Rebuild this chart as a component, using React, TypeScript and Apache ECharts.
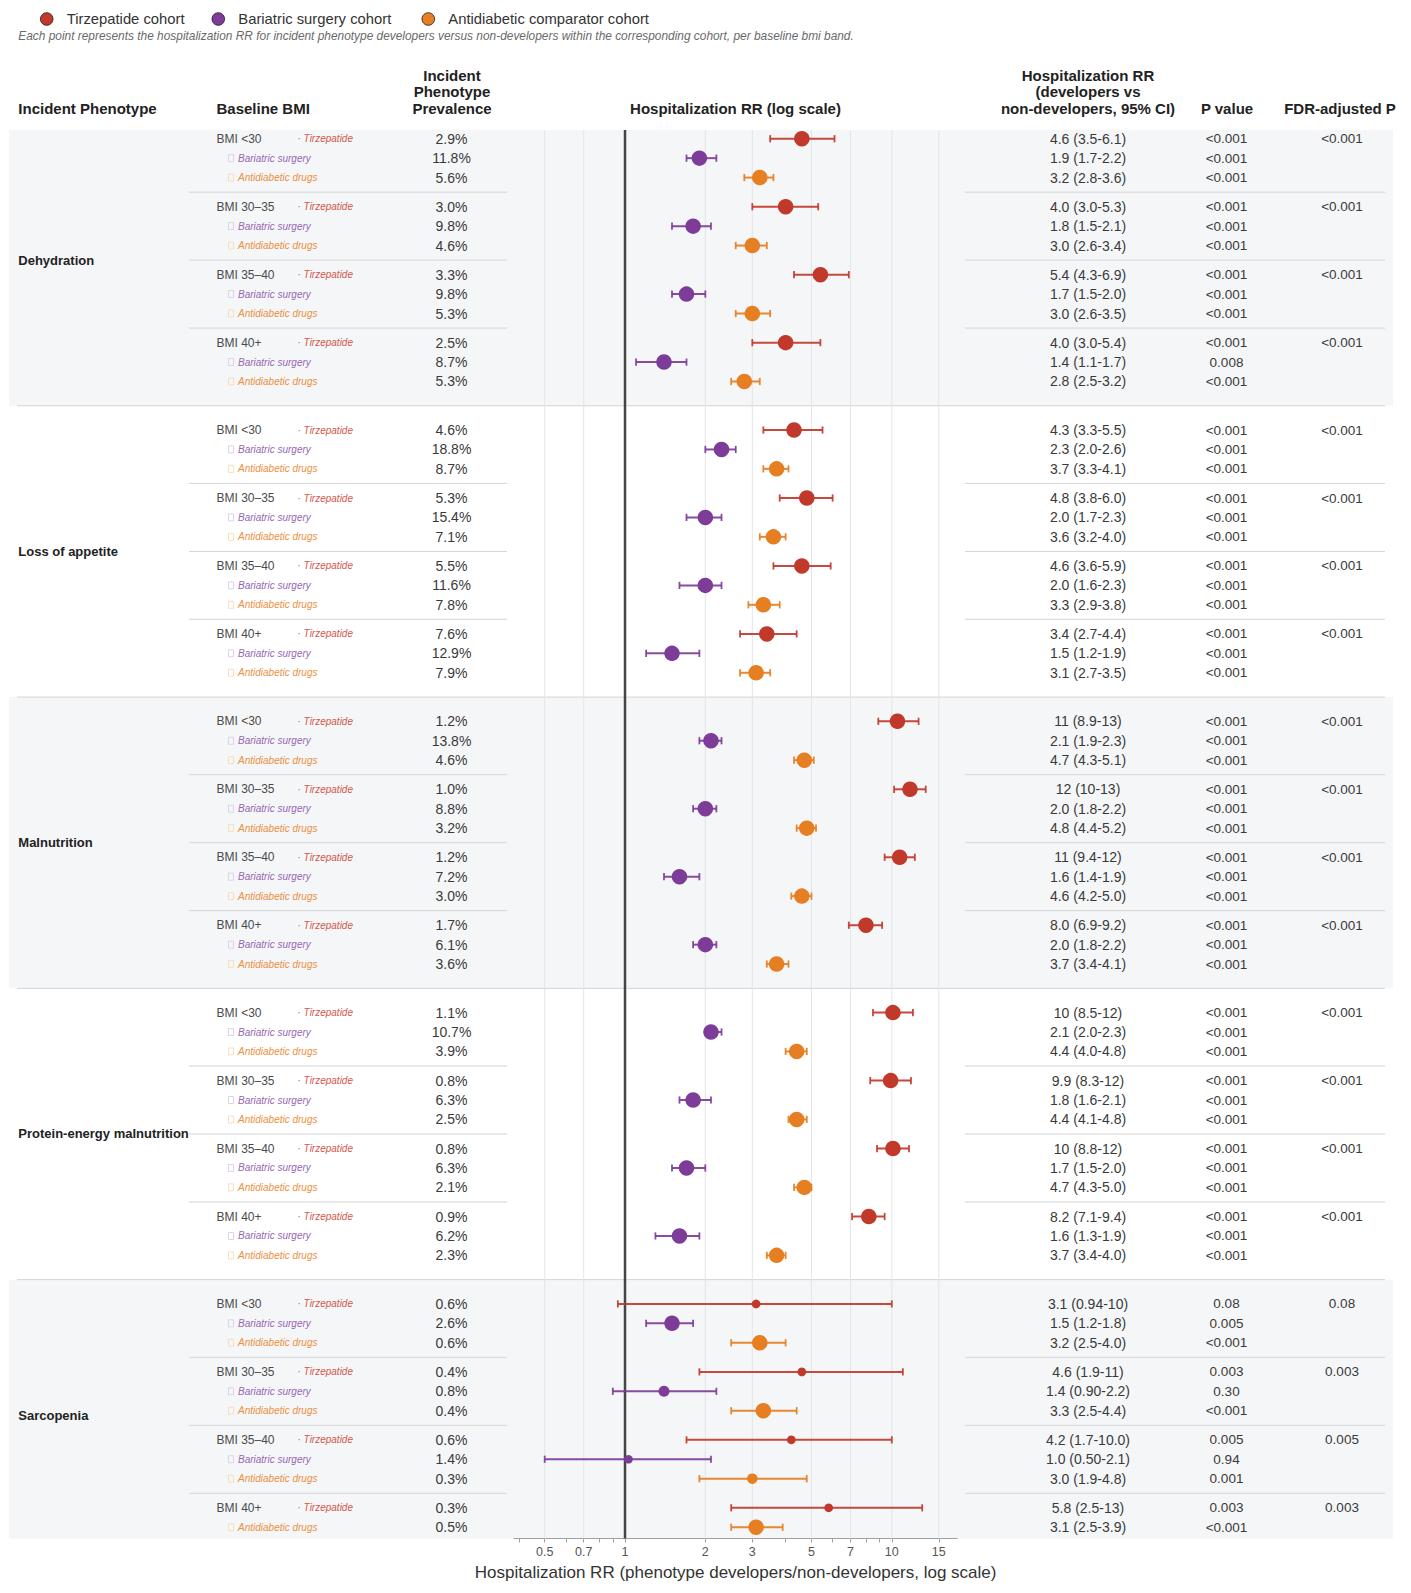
import React, { useEffect, useRef } from "react";
import * as echarts from "echarts";

const FONT = '"Liberation Sans", Arial, Helvetica, sans-serif';

// ---------- categories ----------
const phenotypes = ["Dehydration", "Loss of appetite", "Malnutrition", "Protein-energy malnutrition", "Sarcopenia"];
const bmiBands = ["BMI <30", "BMI 30–35", "BMI 35–40", "BMI 40+"];
const cohortNames = ["Tirzepatide", "Bariatric surgery", "Antidiabetic drugs"];
const cohortLegend = ["Tirzepatide cohort", "Bariatric surgery cohort", "Antidiabetic comparator cohort"];
// [phenotype, band, cohort] combinations that have no estimate
const missingRows = [[4, 3, 1]];

// ---------- values (row order: phenotype → BMI band → Tirzepatide, Bariatric, Antidiabetic) ----------
const prevalence = [
  2.9, 11.8, 5.6, 3.0, 9.8, 4.6, 3.3, 9.8, 5.3, 2.5, 8.7, 5.3,
  4.6, 18.8, 8.7, 5.3, 15.4, 7.1, 5.5, 11.6, 7.8, 7.6, 12.9, 7.9,
  1.2, 13.8, 4.6, 1.0, 8.8, 3.2, 1.2, 7.2, 3.0, 1.7, 6.1, 3.6,
  1.1, 10.7, 3.9, 0.8, 6.3, 2.5, 0.8, 6.3, 2.1, 0.9, 6.2, 2.3,
  0.6, 2.6, 0.6, 0.4, 0.8, 0.4, 0.6, 1.4, 0.3, 0.3, 0.5,
];
const rr = [
  4.6, 1.9, 3.2, 4.0, 1.8, 3.0, 5.4, 1.7, 3.0, 4.0, 1.4, 2.8,
  4.3, 2.3, 3.7, 4.8, 2.0, 3.6, 4.6, 2.0, 3.3, 3.4, 1.5, 3.1,
  10.5, 2.1, 4.7, 11.7, 2.0, 4.8, 10.7, 1.6, 4.6, 8.0, 2.0, 3.7,
  10.1, 2.1, 4.4, 9.9, 1.8, 4.4, 10.1, 1.7, 4.7, 8.2, 1.6, 3.7,
  3.1, 1.5, 3.2, 4.6, 1.4, 3.3, 4.2, 1.03, 3.0, 5.8, 3.1,
];
const ciLow = [
  3.5, 1.7, 2.8, 3.0, 1.5, 2.6, 4.3, 1.5, 2.6, 3.0, 1.1, 2.5,
  3.3, 2.0, 3.3, 3.8, 1.7, 3.2, 3.6, 1.6, 2.9, 2.7, 1.2, 2.7,
  8.9, 1.9, 4.3, 10.2, 1.8, 4.4, 9.4, 1.4, 4.2, 6.9, 1.8, 3.4,
  8.5, 2.0, 4.0, 8.3, 1.6, 4.1, 8.8, 1.5, 4.3, 7.1, 1.3, 3.4,
  0.94, 1.2, 2.5, 1.9, 0.9, 2.5, 1.7, 0.5, 1.9, 2.5, 2.5,
];
const ciHigh = [
  6.1, 2.2, 3.6, 5.3, 2.1, 3.4, 6.9, 2.0, 3.5, 5.4, 1.7, 3.2,
  5.5, 2.6, 4.1, 6.0, 2.3, 4.0, 5.9, 2.3, 3.8, 4.4, 1.9, 3.5,
  12.6, 2.3, 5.1, 13.4, 2.2, 5.2, 12.2, 1.9, 5.0, 9.2, 2.2, 4.1,
  12.0, 2.3, 4.8, 11.8, 2.1, 4.8, 11.6, 2.0, 5.0, 9.4, 1.9, 4.0,
  10.0, 1.8, 4.0, 11.0, 2.2, 4.4, 10.0, 2.1, 4.8, 13.0, 3.9,
];
const rrText = [
  "4.6 (3.5-6.1)", "1.9 (1.7-2.2)", "3.2 (2.8-3.6)", "4.0 (3.0-5.3)", "1.8 (1.5-2.1)", "3.0 (2.6-3.4)",
  "5.4 (4.3-6.9)", "1.7 (1.5-2.0)", "3.0 (2.6-3.5)", "4.0 (3.0-5.4)", "1.4 (1.1-1.7)", "2.8 (2.5-3.2)",
  "4.3 (3.3-5.5)", "2.3 (2.0-2.6)", "3.7 (3.3-4.1)", "4.8 (3.8-6.0)", "2.0 (1.7-2.3)", "3.6 (3.2-4.0)",
  "4.6 (3.6-5.9)", "2.0 (1.6-2.3)", "3.3 (2.9-3.8)", "3.4 (2.7-4.4)", "1.5 (1.2-1.9)", "3.1 (2.7-3.5)",
  "11 (8.9-13)", "2.1 (1.9-2.3)", "4.7 (4.3-5.1)", "12 (10-13)", "2.0 (1.8-2.2)", "4.8 (4.4-5.2)",
  "11 (9.4-12)", "1.6 (1.4-1.9)", "4.6 (4.2-5.0)", "8.0 (6.9-9.2)", "2.0 (1.8-2.2)", "3.7 (3.4-4.1)",
  "10 (8.5-12)", "2.1 (2.0-2.3)", "4.4 (4.0-4.8)", "9.9 (8.3-12)", "1.8 (1.6-2.1)", "4.4 (4.1-4.8)",
  "10 (8.8-12)", "1.7 (1.5-2.0)", "4.7 (4.3-5.0)", "8.2 (7.1-9.4)", "1.6 (1.3-1.9)", "3.7 (3.4-4.0)",
  "3.1 (0.94-10)", "1.5 (1.2-1.8)", "3.2 (2.5-4.0)", "4.6 (1.9-11)", "1.4 (0.90-2.2)", "3.3 (2.5-4.4)",
  "4.2 (1.7-10.0)", "1.0 (0.50-2.1)", "3.0 (1.9-4.8)", "5.8 (2.5-13)", "3.1 (2.5-3.9)",
];
const pText = [
  "<0.001", "<0.001", "<0.001", "<0.001", "<0.001", "<0.001", "<0.001", "<0.001", "<0.001", "<0.001", "0.008", "<0.001",
  "<0.001", "<0.001", "<0.001", "<0.001", "<0.001", "<0.001", "<0.001", "<0.001", "<0.001", "<0.001", "<0.001", "<0.001",
  "<0.001", "<0.001", "<0.001", "<0.001", "<0.001", "<0.001", "<0.001", "<0.001", "<0.001", "<0.001", "<0.001", "<0.001",
  "<0.001", "<0.001", "<0.001", "<0.001", "<0.001", "<0.001", "<0.001", "<0.001", "<0.001", "<0.001", "<0.001", "<0.001",
  "0.08", "0.005", "<0.001", "0.003", "0.30", "<0.001", "0.005", "0.94", "0.001", "0.003", "<0.001",
];
// one FDR-adjusted P per phenotype × BMI band
const fdrText = [
  "<0.001", "<0.001", "<0.001", "<0.001",
  "<0.001", "<0.001", "<0.001", "<0.001",
  "<0.001", "<0.001", "<0.001", "<0.001",
  "<0.001", "<0.001", "<0.001", "<0.001",
  "0.08", "0.003", "0.005", "0.003",
];

// ---------- axis ----------
const xTickValues = [0.4, 0.5, 0.6, 0.7, 0.8, 0.9, 1, 2, 3, 4, 5, 6, 7, 8, 9, 10, 15];
const xLabelValues = [0.5, 0.7, 1, 2, 3, 5, 7, 10, 15];
const xGridValues = [0.5, 0.7, 1, 2, 3, 5, 7, 10, 15];
const X_MIN = 0.3836;
const X_MAX = 17.6;

// ---------- style / layout ----------
const colors = ["#c0392b", "#7d3c98", "#e67e22"];
const labelColors = ["#d4574d", "#9766b3", "#ec8f40"];
const boxColors = ["", "#ddd2ea", "#f8dcc4"];
const BAND_STEP = 3.5;
const PHENO_STEP = 15;
const Y_MIN = -0.45;
const Y_MAX = 72.08;
const BAND_FILL = "#f5f6f8";
const SEP = "#d4d4d4";

type Row = { i: number; p: number; b: number; c: number; k: number; y: number };
const rows: Row[] = [];
{
  let i = 0;
  phenotypes.forEach((_, p) =>
    bmiBands.forEach((__, b) => {
      let k = 0;
      cohortNames.forEach((___, c) => {
        if (missingRows.some((m) => m[0] === p && m[1] === b && m[2] === c)) return;
        rows.push({ i, p, b, c, k, y: p * PHENO_STEP + b * BAND_STEP + k });
        i++;
        k++;
      });
    })
  );
}

const phenoFirst = (p: number) => Math.min(...rows.filter((r) => r.p === p).map((r) => r.y));
const phenoLast = (p: number) => Math.max(...rows.filter((r) => r.p === p).map((r) => r.y));
const bandTop = (p: number) => (p === 0 ? Y_MIN : (phenoLast(p - 1) + phenoFirst(p)) / 2);
const bandBottom = (p: number) => (p === phenotypes.length - 1 ? Y_MAX : (phenoLast(p) + phenoFirst(p + 1)) / 2);

const markerSize = (lo: number, hi: number) => {
  const w = Math.log(hi / lo);
  return Math.max(8.7, Math.min(15.5, 9.8 / w));
};

const txt = (text: string, x: number, y: number, o: any = {}) => ({
  type: "text",
  x,
  y,
  style: {
    text,
    fill: o.fill || "#333",
    fontSize: o.fontSize || 14,
    fontFamily: FONT,
    fontStyle: o.fontStyle || "normal",
    fontWeight: o.fontWeight || "normal",
    align: o.align || "left",
    verticalAlign: "middle",
  },
});

export default function App() {
  const ref = useRef<HTMLDivElement>(null);

  useEffect(() => {
    if (!ref.current) return;
    const chart = echarts.init(ref.current, undefined, { renderer: "svg" });

    const bandSeries = {
      type: "custom",
      z: 0,
      silent: true,
      clip: false,
      data: phenotypes.map((_, p) => [1, phenoFirst(p)]),
      renderItem: (params: any, api: any) => {
        const p = params.dataIndex;
        const yTop = api.coord([1, bandTop(p)])[1];
        const yBot = api.coord([1, bandBottom(p)])[1];
        const children: any[] = [];
        if (p % 2 === 0)
          children.push({ type: "rect", shape: { x: 9, y: yTop, width: 1384, height: yBot - yTop }, style: { fill: BAND_FILL } });
        if (p > 0)
          children.push({ type: "line", shape: { x1: 17, y1: yTop, x2: 1385, y2: yTop }, style: { stroke: SEP, lineWidth: 1 } });
        return { type: "group", children };
      },
    };

    const groupSeps: number[] = [];
    phenotypes.forEach((_, p) =>
      bmiBands.forEach((__, b) => {
        if (b === 0) return;
        const prevLast = Math.max(...rows.filter((r) => r.p === p && r.b === b - 1).map((r) => r.y));
        const first = Math.min(...rows.filter((r) => r.p === p && r.b === b).map((r) => r.y));
        groupSeps.push((prevLast + first) / 2);
      })
    );
    const groupSepSeries = {
      type: "custom",
      z: 1,
      silent: true,
      clip: false,
      data: groupSeps.map((y) => [1, y]),
      renderItem: (params: any, api: any) => {
        const y = api.coord([1, api.value(1)])[1];
        return {
          type: "group",
          children: [
            { type: "line", shape: { x1: 189, y1: y, x2: 507, y2: y }, style: { stroke: SEP, lineWidth: 1 } },
            { type: "line", shape: { x1: 965, y1: y, x2: 1385, y2: y }, style: { stroke: SEP, lineWidth: 1 } },
          ],
        };
      },
    };

    const gridSeries = {
      type: "custom",
      z: 1,
      silent: true,
      clip: false,
      data: xGridValues.map((v) => [v, Y_MIN]),
      renderItem: (params: any, api: any) => {
        const v = api.value(0);
        const top = api.coord([v, Y_MIN]);
        const bot = api.coord([v, Y_MAX]);
        const isRef = v === 1;
        return {
          type: "line",
          z2: isRef ? 10 : 0,
          shape: { x1: top[0], y1: top[1], x2: bot[0], y2: bot[1] },
          style: { stroke: isRef ? "#454545" : "#e4e5e7", lineWidth: isRef ? 2.5 : 1 },
        };
      },
    };

    const tableSeries = {
      type: "custom",
      z: 2,
      silent: true,
      clip: false,
      data: rows.map((r) => [1, r.y]),
      renderItem: (params: any, api: any) => {
        const r = rows[params.dataIndex];
        const y = api.coord([1, r.y])[1];
        const ch: any[] = [];
        if (r.k === 0) ch.push(txt(bmiBands[r.b], 216.5, y, { fontSize: 12, fill: "#4a4a4a" }));
        if (r.c === 0) {
          ch.push(txt("· " + cohortNames[0], 297.5, y, { fontSize: 10, fontStyle: "italic", fill: labelColors[0] }));
        } else {
          ch.push({ type: "rect", shape: { x: 228.5, y: y - 3.5, width: 5, height: 7 }, style: { fill: "none", stroke: boxColors[r.c], lineWidth: 1 } });
          ch.push(txt(cohortNames[r.c], 238, y, { fontSize: 10, fontStyle: "italic", fill: labelColors[r.c] }));
        }
        ch.push(txt(prevalence[r.i].toFixed(1) + "%", 451.5, y, { align: "center", fontSize: 14, fill: "#3a3a3a" }));
        ch.push(txt(rrText[r.i], 1088, y, { align: "center", fontSize: 14, fill: "#3a3a3a" }));
        ch.push(txt(pText[r.i], 1226.5, y, { align: "center", fontSize: 13.5, fill: "#3a3a3a" }));
        if (r.k === 0) ch.push(txt(fdrText[r.p * bmiBands.length + r.b], 1342, y, { align: "center", fontSize: 13.5, fill: "#3a3a3a" }));
        return { type: "group", children: ch };
      },
    };

    const phenoSeries = {
      type: "custom",
      z: 2,
      silent: true,
      clip: false,
      data: phenotypes.map((_, p) => [1, (phenoFirst(p) + phenoLast(p)) / 2]),
      renderItem: (params: any, api: any) => {
        const y = api.coord([1, api.value(1)])[1];
        return txt(phenotypes[params.dataIndex], 18.3, y, { fontSize: 13, fontWeight: "bold", fill: "#222" });
      },
    };

    const errorSeries = cohortNames.map((_, c) => ({
      type: "custom",
      name: cohortLegend[c],
      z: 3,
      silent: true,
      clip: false,
      encode: { x: [0, 1], y: 2 },
      data: rows.filter((r) => r.c === c).map((r) => [ciLow[r.i], ciHigh[r.i], r.y]),
      renderItem: (params: any, api: any) => {
        const a = api.coord([api.value(0), api.value(2)]);
        const b = api.coord([api.value(1), api.value(2)]);
        const st = { stroke: colors[c], lineWidth: 2, opacity: 0.92 };
        return {
          type: "group",
          children: [
            { type: "line", shape: { x1: a[0], y1: a[1], x2: b[0], y2: b[1] }, style: st },
            { type: "line", shape: { x1: a[0], y1: a[1] - 3.6, x2: a[0], y2: a[1] + 3.6 }, style: { ...st, lineWidth: 1.8 } },
            { type: "line", shape: { x1: b[0], y1: b[1] - 3.6, x2: b[0], y2: b[1] + 3.6 }, style: { ...st, lineWidth: 1.8 } },
          ],
        };
      },
    }));

    const pointSeries = cohortNames.map((_, c) => ({
      type: "scatter",
      name: cohortLegend[c],
      z: 4,
      silent: true,
      symbol: "circle",
      data: rows.filter((r) => r.c === c).map((r) => [rr[r.i], r.y, ciLow[r.i], ciHigh[r.i]]),
      symbolSize: (v: number[]) => markerSize(v[2], v[3]),
      itemStyle: { color: colors[c], opacity: 1 },
    }));

    const hdr = (text: string, x: number, y: number, align = "left") =>
      txt(text, x, y, { fontWeight: "bold", fontSize: 15, fill: "#222", align });

    const legendX = [46.7, 218.3, 428.3];
    const graphic: any[] = [];
    cohortLegend.forEach((name, c) => {
      graphic.push({ type: "circle", shape: { cx: legendX[c], cy: 19, r: 6.3 }, style: { fill: colors[c], stroke: "rgba(30,30,30,0.8)", lineWidth: 1 } });
      graphic.push(txt(name, legendX[c] + 20, 19, { fontSize: 14.8, fill: "#333" }));
    });
    graphic.push(
      txt(
        "Each point represents the hospitalization RR for incident phenotype developers versus non-developers within the corresponding cohort, per baseline bmi band.",
        18.3,
        36,
        { fontSize: 11.9, fontStyle: "italic", fill: "#6a6a6a" }
      )
    );
    graphic.push(hdr("Incident Phenotype", 18.3, 108));
    graphic.push(hdr("Baseline BMI", 216.5, 108));
    graphic.push(hdr("Incident", 452, 75, "center"));
    graphic.push(hdr("Phenotype", 452, 91.5, "center"));
    graphic.push(hdr("Prevalence", 452, 108, "center"));
    graphic.push(hdr("Hospitalization RR (log scale)", 735.5, 108, "center"));
    graphic.push(hdr("Hospitalization RR", 1088, 75, "center"));
    graphic.push(hdr("(developers vs", 1088, 91.5, "center"));
    graphic.push(hdr("non-developers, 95% CI)", 1088, 108, "center"));
    graphic.push(hdr("P value", 1227, 108, "center"));
    graphic.push(hdr("FDR-adjusted P", 1340, 108, "center"));

    chart.setOption({
      animation: false,
      backgroundColor: "#ffffff",
      textStyle: { fontFamily: FONT },
      grid: { left: 514, right: 1411 - 957.3, top: 130, height: 1408.5, containLabel: false },
      xAxis: {
        type: "log",
        logBase: 10,
        min: X_MIN,
        max: X_MAX,
        axisLine: { show: true, onZero: false, lineStyle: { color: "#a0a0a0", width: 1 } },
        axisTick: { show: true, length: 4, customValues: xTickValues, lineStyle: { color: "#a0a0a0" } },
        axisLabel: {
          customValues: xLabelValues,
          formatter: (v: number) => String(Math.round(v * 100) / 100),
          color: "#555",
          fontSize: 12.5,
          margin: 7,
          fontFamily: FONT,
        },
        splitLine: { show: false },
        minorTick: { show: false },
        name: "Hospitalization RR (phenotype developers/non-developers, log scale)",
        nameLocation: "middle",
        nameGap: 25,
        nameTextStyle: { fontSize: 17, color: "#333", fontFamily: FONT },
      },
      yAxis: { type: "value", inverse: true, min: Y_MIN, max: Y_MAX, show: false },
      graphic,
      series: [bandSeries, groupSepSeries, gridSeries, tableSeries, phenoSeries, ...errorSeries, ...pointSeries],
    });

    return () => chart.dispose();
  }, []);

  return <div ref={ref} style={{ position: "absolute", left: 0, top: 0, width: 1411, height: 1593 }} />;
}
